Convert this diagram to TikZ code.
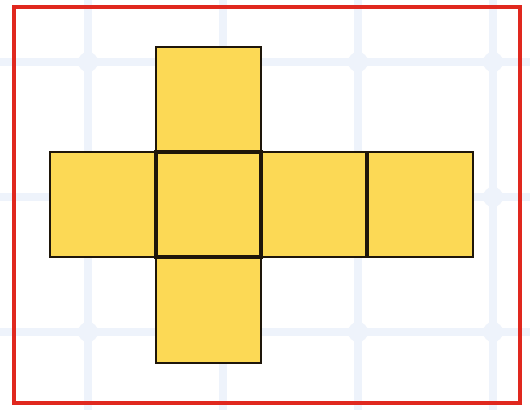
\documentclass[tikz,border=0pt]{standalone}
\definecolor{gridblue}{HTML}{EEF3FB}
\definecolor{framered}{HTML}{E0281E}
\definecolor{face}{HTML}{FCD955}
\definecolor{edge}{HTML}{1E160A}
\begin{document}
\begin{tikzpicture}[x=0.75pt,y=-0.75pt,
  gridline/.style={draw=gridblue,line width=5.5pt},
  facebox/.style={draw=edge,fill=face,line width=1.5pt,minimum size=79pt,inner sep=0pt,outer sep=0pt},
  thickedge/.style={draw=edge,line width=2.6pt},
  border/.style={draw=framered,line width=2.4pt,minimum width=379.5pt,minimum height=297pt,inner sep=0pt}]
\useasboundingbox (0,0) rectangle (530,410);
\fill[white] (0,0) rectangle (530,410);
% background grid
\foreach \gx in {88,223,358,493} \draw[gridline] (\gx,0) -- (\gx,410);
\foreach \gy in {62,197,332} \draw[gridline] (0,\gy) -- (530,\gy);
\foreach \gx in {88,223,358,493} \foreach \gy in {62,197,332}
  \fill[gridblue] (\gx,\gy) circle (10);
% frame
\node[border] (frm) at (267,205) {};
% net of the cube
\node[facebox] (up) at (208.5,99.5) {};
\node[facebox] (lf) at (103,204.5) {};
\node[facebox] (r1) at (314,204.5) {};
\node[facebox] (r2) at (420.5,204.5) {};
\node[facebox] (dn) at (208.5,310) {};
\node[facebox,thickedge] (mid) at (208.5,204.5) {};
\draw[thickedge] (r1.north east) -- (r1.south east);
\end{tikzpicture}
\end{document}
